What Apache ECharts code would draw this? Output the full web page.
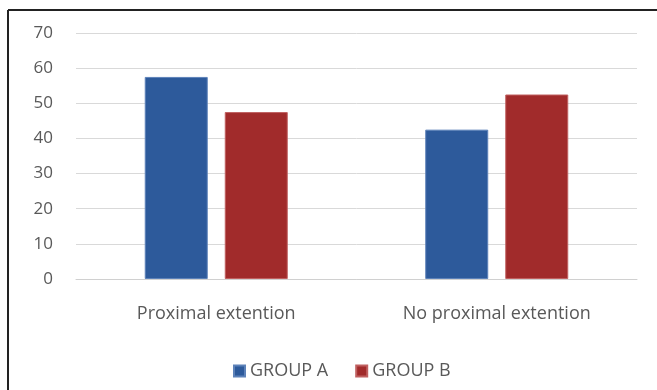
<!DOCTYPE html>
<html>
<head>
<meta charset="utf-8">
<script src="https://cdn.jsdelivr.net/npm/echarts@6/dist/echarts.min.js"></script>
<style>
  html, body { margin: 0; padding: 0; background: #ffffff; }
  #chart { width: 657px; height: 390px; }
</style>
</head>
<body>
<div id="chart"></div>
<script>
// Categories and values per group (percent)
const categories = ['Proximal extention', 'No proximal extention'];
const groupA = [57.5, 42.5];
const groupB = [47.5, 52.5];
const seriesNames = ['GROUP A', 'GROUP B'];
const yTicks = { min: 0, max: 70, interval: 10 };

const FONT = '"Open Sans", "Liberation Sans", sans-serif';
const TEXT = '#595959';

const chart = echarts.init(document.getElementById('chart'), null, { renderer: 'canvas' });
chart.setOption({
  animation: false,
  backgroundColor: '#ffffff',
  // frame: top and left edges
  graphic: [
    { type: 'line', shape: { x1: 8, y1: 10, x2: 657, y2: 10 }, style: { stroke: '#222222', lineWidth: 2 } },
    { type: 'line', shape: { x1: 8, y1: 10, x2: 8, y2: 390 }, style: { stroke: '#222222', lineWidth: 2 } }
  ],
  grid: { left: 76, right: 20, top: 33, bottom: 111, containLabel: false },
  legend: {
    data: seriesNames,
    left: 228,
    top: 357,
    itemWidth: 11,
    itemHeight: 11,
    itemGap: 27,
    icon: 'rect',
    textStyle: { fontFamily: FONT, fontSize: 18, color: TEXT, padding: [0, 0, 0, 0] }
  },
  xAxis: {
    type: 'category',
    data: categories,
    axisTick: { show: false },
    axisLine: { lineStyle: { color: '#d0d0d0', width: 1 } },
    axisLabel: { fontFamily: FONT, fontSize: 18, color: TEXT, margin: 26 }
  },
  yAxis: {
    type: 'value',
    min: yTicks.min,
    max: yTicks.max,
    interval: yTicks.interval,
    axisLine: { show: false },
    axisTick: { show: false },
    splitLine: { lineStyle: { color: '#d9d9d9', width: 1 } },
    axisLabel: { fontFamily: FONT, fontSize: 17, color: TEXT, margin: 23 }
  },
  series: [
    {
      name: seriesNames[0], type: 'bar', data: groupA,
      barWidth: 63, barGap: '27%',
      itemStyle: { color: '#2d5a9b', borderColor: '#5d82b9', borderWidth: 1 }
    },
    {
      name: seriesNames[1], type: 'bar', data: groupB,
      barWidth: 63,
      itemStyle: { color: '#a12b2b', borderColor: '#c06060', borderWidth: 1 }
    }
  ]
});
</script>
</body>
</html>
